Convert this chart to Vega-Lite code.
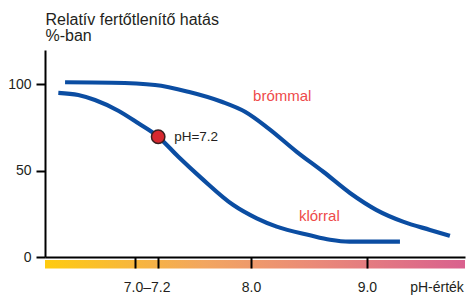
{
  "$schema": "https://vega.github.io/schema/vega-lite/v6.json",
  "width": 420,
  "height": 207,
  "autosize": {"type": "none"},
  "padding": {"left": 45, "top": 50, "right": 3, "bottom": 38},
  "background": "white",
  "config": {"view": {"stroke": null}, "font": "Liberation Sans"},
  "datasets": {
    "curves": [
      {"series": "bróm", "ph": 6.397, "value": 101.3},
      {"series": "bróm", "ph": 6.799, "value": 101.0},
      {"series": "bróm", "ph": 7.173, "value": 99.7},
      {"series": "bróm", "ph": 7.460, "value": 95.8},
      {"series": "bróm", "ph": 7.748, "value": 90.0},
      {"series": "bróm", "ph": 7.949, "value": 84.2},
      {"series": "bróm", "ph": 8.150, "value": 74.6},
      {"series": "bróm", "ph": 8.395, "value": 61.0},
      {"series": "bróm", "ph": 8.624, "value": 49.4},
      {"series": "bróm", "ph": 8.854, "value": 37.1},
      {"series": "bróm", "ph": 9.084, "value": 27.2},
      {"series": "bróm", "ph": 9.311, "value": 20.5},
      {"series": "bróm", "ph": 9.544, "value": 15.7},
      {"series": "bróm", "ph": 9.716, "value": 12.3},
      {"series": "klór", "ph": 6.339, "value": 95.2},
      {"series": "klór", "ph": 6.511, "value": 93.9},
      {"series": "klór", "ph": 6.655, "value": 91.0},
      {"series": "klór", "ph": 6.856, "value": 84.8},
      {"series": "klór", "ph": 7.029, "value": 77.5},
      {"series": "klór", "ph": 7.201, "value": 69.7},
      {"series": "klór", "ph": 7.374, "value": 58.1},
      {"series": "klór", "ph": 7.575, "value": 45.6},
      {"series": "klór", "ph": 7.848, "value": 30.1},
      {"series": "klór", "ph": 8.050, "value": 22.4},
      {"series": "klór", "ph": 8.222, "value": 17.6},
      {"series": "klór", "ph": 8.509, "value": 12.6},
      {"series": "klór", "ph": 8.682, "value": 10.0},
      {"series": "klór", "ph": 8.850, "value": 8.9},
      {"series": "klór", "ph": 9.285, "value": 8.9}
    ],
    "point": [{"ph": 7.2, "value": 69.7, "label": "pH=7.2"}],
    "labels": [
      {"ph": 8.27, "value": 93.3, "label": "brómmal"},
      {"ph": 8.59, "value": 23.9, "label": "klórral"}
    ],
    "band": [{"ph_start": 6.224, "ph_end": 9.846, "lo": -1.74, "hi": -6.6}]
  },
  "layer": [
    {
      "data": {"name": "band"},
      "mark": {
        "type": "rect",
        "color": {
          "gradient": "linear",
          "x1": 0, "x2": 1, "y1": 0, "y2": 0,
          "stops": [
            {"offset": 0, "color": "#fecb0f"},
            {"offset": 0.38, "color": "#f2a660"},
            {"offset": 0.64, "color": "#ea8a78"},
            {"offset": 1, "color": "#d9608e"}
          ]
        }
      },
      "encoding": {
        "x": {
          "field": "ph_start", "type": "quantitative",
          "scale": {"domain": [6.224, 9.846], "nice": false, "zero": false},
          "axis": {
            "values": [7, 7.1, 7.2, 8, 9, 9.6],
            "labelExpr": "datum.value == 7.1 ? '7.0–7.2' : datum.value == 8 ? '8.0' : datum.value == 9 ? '9.0' : datum.value > 9.5 ? 'pH-érték' : ''",
            "tickOpacity": {"condition": {"test": "datum.value == 7.1 || datum.value > 9.5", "value": 0}, "value": 1},
            "tickSize": 11,
            "tickWidth": 2,
            "tickColor": "black",
            "domainColor": "black",
            "domainWidth": 2,
            "labelPadding": 12,
            "labelFontSize": 14,
            "labelColor": "#231f20",
            "labelFlush": false,
            "labelOverlap": false,
            "title": null,
            "grid": false,
            "zindex": 1
          }
        },
        "x2": {"field": "ph_end"},
        "y": {
          "field": "lo", "type": "quantitative",
          "scale": {"domain": [0, 120], "nice": false},
          "axis": {
            "values": [0, 50, 100],
            "tickSize": 9,
            "tickWidth": 2,
            "tickColor": "black",
            "domainColor": "black",
            "domainWidth": 2,
            "labelPadding": 5,
            "labelFontSize": 14,
            "labelColor": "#231f20",
            "grid": false,
            "title": ["Relatív fertőtlenítő hatás", "%-ban"],
            "titleAngle": 0,
            "titleAlign": "left",
            "titleBaseline": "alphabetic",
            "titleX": 0,
            "titleY": -26,
            "titleFontSize": 16,
            "titleFontWeight": "normal",
            "titleColor": "#231f20",
            "titleLineHeight": 16
          }
        },
        "y2": {"field": "hi"}
      }
    },
    {
      "data": {"name": "curves"},
      "mark": {"type": "line", "interpolate": "monotone", "strokeWidth": 4.2, "color": "#0b4da2", "strokeCap": "butt"},
      "encoding": {
        "x": {"field": "ph", "type": "quantitative"},
        "y": {"field": "value", "type": "quantitative"},
        "detail": {"field": "series"}
      }
    },
    {
      "data": {"name": "point"},
      "mark": {"type": "circle", "size": 180, "fill": "#d7282f", "stroke": "#3b1f1f", "strokeWidth": 1.5, "opacity": 1},
      "encoding": {
        "x": {"field": "ph", "type": "quantitative"},
        "y": {"field": "value", "type": "quantitative"}
      }
    },
    {
      "data": {"name": "point"},
      "mark": {"type": "text", "align": "left", "baseline": "middle", "dx": 16, "fontSize": 13.5, "color": "#231f20"},
      "encoding": {
        "x": {"field": "ph", "type": "quantitative"},
        "y": {"field": "value", "type": "quantitative"},
        "text": {"field": "label"}
      }
    },
    {
      "data": {"name": "labels"},
      "mark": {"type": "text", "align": "center", "baseline": "middle", "fontSize": 15, "color": "#ee4a4a"},
      "encoding": {
        "x": {"field": "ph", "type": "quantitative"},
        "y": {"field": "value", "type": "quantitative"},
        "text": {"field": "label"}
      }
    }
  ]
}
